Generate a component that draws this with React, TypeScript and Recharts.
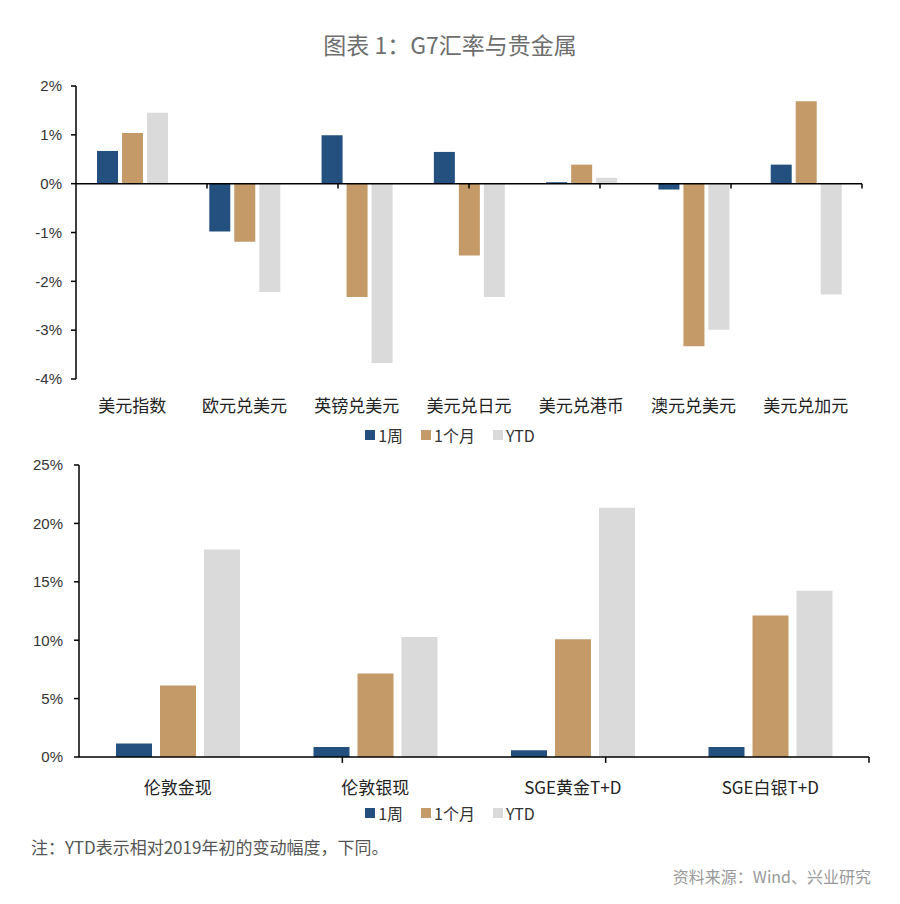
import React from 'react'
import { BarChart, Bar, XAxis, YAxis, ReferenceLine } from 'recharts'

// top panel: G7 FX moves, %
const fxCategories = ['美元指数', '欧元兑美元', '英镑兑美元', '美元兑日元', '美元兑港币', '澳元兑美元', '美元兑加元']
const fxWeek = [0.67, -0.98, 0.99, 0.65, 0.03, -0.12, 0.39]
const fxMonth = [1.04, -1.19, -2.32, -1.47, 0.39, -3.33, 1.69]
const fxYtd = [1.45, -2.22, -3.67, -2.32, 0.12, -2.99, -2.27]
const fxTicks = [-4, -3, -2, -1, 0, 1, 2]

// bottom panel: precious metals, %
const metalCategories = ['伦敦金现', '伦敦银现', 'SGE黄金T+D', 'SGE白银T+D']
const metalWeek = [1.15, 0.86, 0.57, 0.86]
const metalMonth = [6.12, 7.14, 10.09, 12.12]
const metalYtd = [17.77, 10.28, 21.34, 14.23]
const metalTicks = [0, 5, 10, 15, 20, 25]

const seriesNames = ['1周', '1个月', 'YTD']
const colors = ['#23507f', '#c49a69', '#dadada']

const cjk = "'Noto Sans CJK SC', 'Noto Sans', sans-serif"
const latin = "'Liberation Sans', Arial, sans-serif"

const fxData = fxCategories.map((c, i) => ({ name: c, week: fxWeek[i], month: fxMonth[i], ytd: fxYtd[i] }))
const metalData = metalCategories.map((c, i) => ({ name: c, week: metalWeek[i], month: metalMonth[i], ytd: metalYtd[i] }))

const pct = (v: number) => `${v}%`

function LegendRow({ top }: { top: number }) {
  return (
    <div style={{ position: 'absolute', top, left: 0, width: 900, display: 'flex', justifyContent: 'center', gap: 18, fontFamily: cjk, fontSize: 16, color: '#333', lineHeight: '20px' }}>
      {seriesNames.map((n, i) => (
        <div key={n} style={{ display: 'flex', alignItems: 'center' }}>
          <span style={{ display: 'inline-block', width: 10, height: 10, background: colors[i], marginRight: 3 }} />
          <span>{n}</span>
        </div>
      ))}
    </div>
  )
}

export default function App() {
  return (
    <div style={{ position: 'absolute', left: 0, top: 0, width: 900, height: 904, background: '#fff', overflow: 'hidden' }}>
      <div style={{ position: 'absolute', top: 28, left: 0, width: 900, textAlign: 'center', fontFamily: cjk, fontSize: 23, color: '#6e6e6e', lineHeight: '32px' }}>
        图表 1：G7汇率与贵金属
      </div>

      <div style={{ position: 'absolute', top: 60, left: 0 }}>
        <BarChart width={900} height={370} data={fxData} margin={{ top: 26, right: 38, bottom: 0, left: 0 }} barSize={21} barGap={4}>
          <XAxis xAxisId="cat" dataKey="name" interval={0} axisLine={false} tickLine={false} height={51} tickMargin={15}
            tick={{ fill: '#222', fontSize: 17, fontFamily: cjk }} />
          <XAxis xAxisId="edge" type="number" domain={[0, fxCategories.length]} hide />
          <YAxis domain={[-4, 2]} ticks={fxTicks} tickFormatter={pct} width={76} tickSize={5} tickMargin={9}
            axisLine={{ stroke: '#000', strokeWidth: 1.5 }} tickLine={{ stroke: '#000', strokeWidth: 1.5 }}
            tick={{ fill: '#333', fontSize: 15, fontFamily: latin }} />
          <Bar xAxisId="cat" dataKey="week" name={seriesNames[0]} fill={colors[0]} isAnimationActive={false} />
          <Bar xAxisId="cat" dataKey="month" name={seriesNames[1]} fill={colors[1]} isAnimationActive={false} />
          <Bar xAxisId="cat" dataKey="ytd" name={seriesNames[2]} fill={colors[2]} isAnimationActive={false} />
          <ReferenceLine xAxisId="edge" y={0} stroke="#000" strokeWidth={1.5} />
          {fxCategories.map((_, i) => (
            <ReferenceLine key={i} xAxisId="edge" stroke="#000" strokeWidth={1.5}
              segment={[{ x: i + 1, y: 0 }, { x: i + 1, y: -0.1 }]} />
          ))}
        </BarChart>
      </div>
      <LegendRow top={425} />

      <div style={{ position: 'absolute', top: 440, left: 0 }}>
        <BarChart width={900} height={367} data={metalData} margin={{ top: 25, right: 31, bottom: 0, left: 0 }} barSize={36} barGap={8}>
          <XAxis xAxisId="cat" dataKey="name" interval={0} axisLine={{ stroke: '#000', strokeWidth: 1.5 }} tickLine={false} height={50} tickMargin={19}
            tick={{ fill: '#222', fontSize: 17, fontFamily: cjk }} />
          <XAxis xAxisId="edge" type="number" domain={[0, metalCategories.length]} hide />
          <YAxis domain={[0, 25]} ticks={metalTicks} tickFormatter={pct} width={79} tickSize={5} tickMargin={11}
            axisLine={{ stroke: '#000', strokeWidth: 1.5 }} tickLine={{ stroke: '#000', strokeWidth: 1.5 }}
            tick={{ fill: '#333', fontSize: 15, fontFamily: latin }} />
          <Bar xAxisId="cat" dataKey="week" name={seriesNames[0]} fill={colors[0]} isAnimationActive={false} />
          <Bar xAxisId="cat" dataKey="month" name={seriesNames[1]} fill={colors[1]} isAnimationActive={false} />
          <Bar xAxisId="cat" dataKey="ytd" name={seriesNames[2]} fill={colors[2]} isAnimationActive={false} />
          {metalCategories.map((_, i) => (
            <ReferenceLine key={i} xAxisId="edge" stroke="#000" strokeWidth={1.5} ifOverflow="visible"
              segment={[{ x: i + 1, y: 0 }, { x: i + 1, y: -0.5 }]} />
          ))}
        </BarChart>
      </div>
      <LegendRow top={803} />

      <div style={{ position: 'absolute', top: 835, left: 31, fontFamily: cjk, fontSize: 17, color: '#555', lineHeight: '24px' }}>
        注：YTD表示相对2019年初的变动幅度，下同。
      </div>
      <div style={{ position: 'absolute', top: 864, right: 29, fontFamily: cjk, fontSize: 16, color: '#999', lineHeight: '24px' }}>
        资料来源：Wind、兴业研究
      </div>
    </div>
  )
}
